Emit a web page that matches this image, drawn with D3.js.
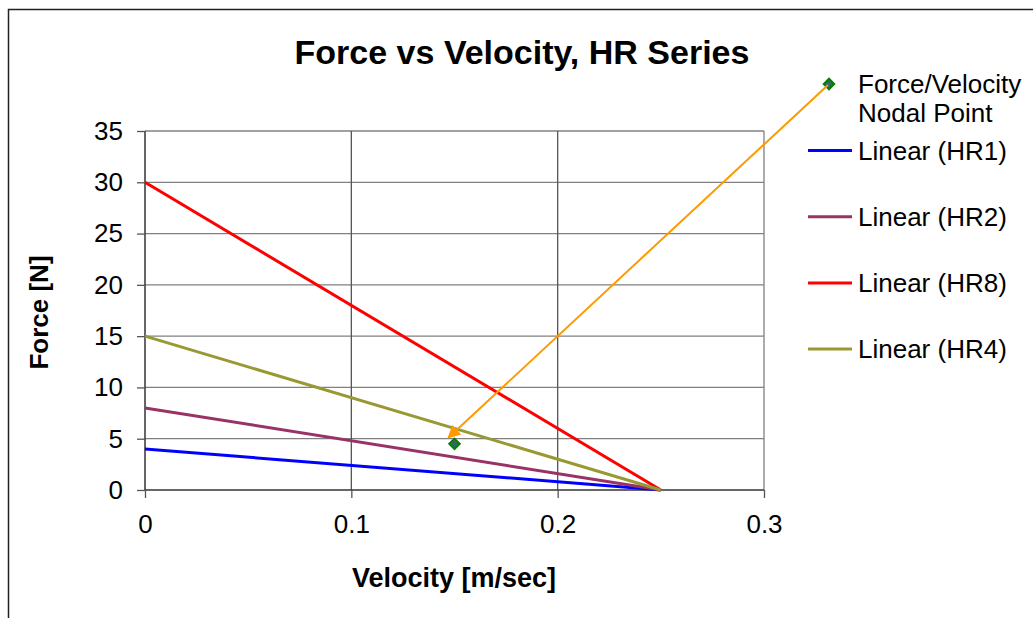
<!DOCTYPE html>
<html lang="en">
<head>
<meta charset="UTF-8">
<title>Force vs Velocity, HR Series</title>
<script src="https://d3js.org/d3.v7.min.js"></script>
<style>
    body { margin: 0; background: #fff; overflow: hidden; }
    svg { display: block; font-family: "Liberation Sans", Arial, sans-serif; }
</style>
</head>
<body>
<script>
    // Данные: линейные тренды (значение силы при v=0 и при v=0.25)
    const seriesNames = ["Linear (HR1)", "Linear (HR2)", "Linear (HR8)", "Linear (HR4)"];
    const seriesColors = ["#0000ff", "#993366", "#ff0000", "#999933"];
    const velocities = [0, 0.25];
    const forceHR1 = [4, 0];
    const forceHR2 = [8, 0];
    const forceHR8 = [30, 0];
    const forceHR4 = [15, 0];
    const seriesForces = [forceHR1, forceHR2, forceHR8, forceHR4];

    // Узловая точка
    const nodalVelocity = [0.15];
    const nodalForce = [4.5];
    // Конец стрелки (в координатах данных)
    const arrowTip = [0.147, 5.1];

    const xTicks = [0, 0.1, 0.2, 0.3];
    const yTicks = [0, 5, 10, 15, 20, 25, 30, 35];

    const width = 1033, height = 618;
    const svg = d3.select("body").append("svg")
        .attr("width", width)
        .attr("height", height);

    // Рамка всей диаграммы
    svg.append("rect")
        .attr("x", 8.5).attr("y", 9.5)
        .attr("width", 1100).attr("height", 700)
        .attr("fill", "none")
        .attr("stroke", "#222")
        .attr("stroke-width", 1.5);

    const plot = { left: 145, right: 764, top: 131, bottom: 490 };

    const x = d3.scaleLinear().domain([0, 0.3]).range([plot.left, plot.right]);
    const y = d3.scaleLinear().domain([0, 35]).range([plot.bottom, plot.top]);

    // Сетка
    svg.append("g")
        .selectAll("line")
        .data(yTicks.slice(1))
        .enter().append("line")
        .attr("x1", plot.left).attr("x2", plot.right)
        .attr("y1", d => y(d)).attr("y2", d => y(d))
        .attr("stroke", "#808080").attr("stroke-width", 1.3);

    svg.append("g")
        .selectAll("line")
        .data(xTicks.slice(1))
        .enter().append("line")
        .attr("x1", d => x(d)).attr("x2", d => x(d))
        .attr("y1", plot.top).attr("y2", plot.bottom)
        .attr("stroke", d => d === 0.3 ? "#808080" : "#555")
        .attr("stroke-width", 1.3);

    // Оси
    const xAxis = svg.append("g")
        .attr("transform", `translate(0,${plot.bottom})`)
        .call(d3.axisBottom(x).tickValues(xTicks).tickSize(8).tickPadding(17)
            .tickFormat(d => d === 0 ? "0" : d3.format(".1f")(d)));
    const yAxis = svg.append("g")
        .attr("transform", `translate(${plot.left},0)`)
        .call(d3.axisLeft(y).tickValues(yTicks).tickSize(8).tickPadding(14));

    [xAxis, yAxis].forEach(a => {
        a.select(".domain").attr("stroke", "#333").attr("stroke-width", 1.5);
        a.selectAll(".tick line").attr("stroke", "#555").attr("stroke-width", 1.3);
        a.selectAll(".tick text")
            .attr("fill", "#000")
            .style("font-size", "26px")
            .style("font-family", "Liberation Sans, Arial, sans-serif");
    });
    xAxis.select(".domain").attr("d", `M${plot.left},0H${plot.right}`);
    yAxis.select(".domain").attr("d", `M0,${plot.bottom}V${plot.top}`);

    // Линии трендов
    const line = d3.line()
        .x((d, i) => x(velocities[i]))
        .y(d => y(d));

    svg.append("g")
        .selectAll("path")
        .data(seriesForces)
        .enter().append("path")
        .attr("d", d => line(d))
        .attr("fill", "none")
        .attr("stroke", (d, i) => seriesColors[i])
        .attr("stroke-width", 3);

    // Узловая точка (ромб)
    const diamond = d3.symbol().type(d3.symbolDiamond2).size(70);
    svg.append("g")
        .selectAll("path")
        .data(nodalVelocity)
        .enter().append("path")
        .attr("d", diamond)
        .attr("transform", (d, i) => `translate(${x(d)},${y(nodalForce[i])})`)
        .attr("fill", "#336666")
        .attr("stroke", "#008000")
        .attr("stroke-width", 2);

    // Заголовки
    svg.append("text")
        .attr("x", 522).attr("y", 64)
        .attr("text-anchor", "middle")
        .style("font-size", "34px").style("font-weight", "bold")
        .text("Force vs Velocity, HR Series");

    svg.append("text")
        .attr("x", 454).attr("y", 587)
        .attr("text-anchor", "middle")
        .style("font-size", "27px").style("font-weight", "bold")
        .text("Velocity [m/sec]");

    svg.append("text")
        .attr("transform", `translate(48,${(plot.top + plot.bottom) / 2 + 2}) rotate(-90)`)
        .attr("text-anchor", "middle")
        .style("font-size", "26px").style("font-weight", "bold")
        .text("Force [N]");

    // Легенда
    const legend = svg.append("g");
    const markerPos = [829, 84];

    legend.append("path")
        .attr("d", diamond)
        .attr("transform", `translate(${markerPos[0]},${markerPos[1]})`)
        .attr("fill", "#336666")
        .attr("stroke", "#008000")
        .attr("stroke-width", 2);

    legend.append("text")
        .attr("x", 858).attr("y", 93)
        .style("font-size", "26px")
        .text("Force/Velocity");
    legend.append("text")
        .attr("x", 858).attr("y", 122)
        .style("font-size", "26px")
        .text("Nodal Point");

    const legendRows = legend.selectAll("g.row")
        .data(seriesNames)
        .enter().append("g")
        .attr("class", "row")
        .attr("transform", (d, i) => `translate(0,${150.5 + i * 66.2})`);

    legendRows.append("line")
        .attr("x1", 808).attr("x2", 852)
        .attr("stroke", (d, i) => seriesColors[i])
        .attr("stroke-width", 3);

    legendRows.append("text")
        .attr("x", 858).attr("y", 9)
        .style("font-size", "26px")
        .text(d => d);

    // Стрелка от легенды к точке
    svg.append("defs").append("marker")
        .attr("id", "arrow")
        .attr("viewBox", "0 0 10 10")
        .attr("refX", 9).attr("refY", 5)
        .attr("markerWidth", 15).attr("markerHeight", 13)
        .attr("markerUnits", "userSpaceOnUse")
        .attr("orient", "auto")
        .append("path")
        .attr("d", "M0,0L10,5L0,10Z")
        .attr("fill", "#ff9900");

    svg.append("line")
        .attr("x1", markerPos[0] - 1).attr("y1", markerPos[1] + 1)
        .attr("x2", x(arrowTip[0])).attr("y2", y(arrowTip[1]))
        .attr("stroke", "#ff9900")
        .attr("stroke-width", 2)
        .attr("marker-end", "url(#arrow)");
</script>
</body>
</html>
